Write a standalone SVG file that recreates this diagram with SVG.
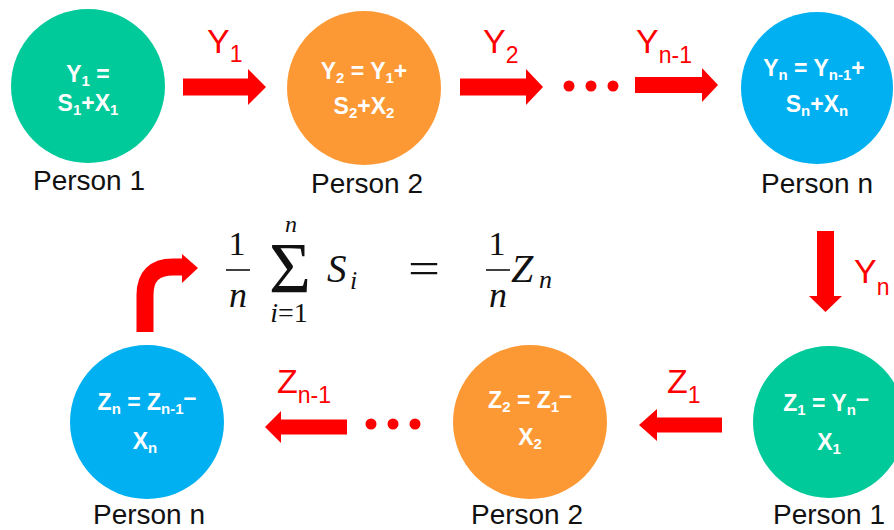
<svg xmlns="http://www.w3.org/2000/svg" width="894" height="530" viewBox="0 0 894 530">
<style>
.green{fill:#00C99A}
.orange{fill:#FD9935}
.blue{fill:#00B0F0}
.ct{font-family:"Liberation Sans",Arial,sans-serif;font-size:23px;font-weight:bold;fill:#fff;text-anchor:middle}
.sb{font-size:15px}
.pl{font-family:"Liberation Sans",Arial,sans-serif;font-size:28px;fill:#111;text-anchor:middle}
.rl{font-family:"Liberation Sans",Arial,sans-serif;font-size:34px;fill:#F00}
.rs{font-size:23px}
.arr{fill:#F00}
.dot{fill:#F00}
.m{font-family:"Liberation Serif","Times New Roman",serif;fill:#111}
.mi{font-style:italic}
.bar{stroke:#111;stroke-width:1.6}
</style>

<g id="connectors">
  <polygon class="arr" points="183,78.5 248,78.5 248,69 266,87 248,105 248,95.5 183,95.5"/>
  <polygon class="arr" points="460,78.5 526,78.5 526,69 543,87 526,105 526,95.5 460,95.5"/>
  <polygon class="arr" points="635,77 702,77 702,68 718,85 702,102 702,93 635,93"/>
  <polygon class="arr" points="817,231 834,231 834,296 842,296 825.5,312 809,296 817,296"/>
  <polygon class="arr" points="722,417.5 657,417.5 657,409 639,425 657,441 657,432.5 722,432.5"/>
  <polygon class="arr" points="347,419.5 281,419.5 281,411 265,427 281,443 281,434.5 347,434.5"/>
  <path d="M145,332 L145,295 Q145,267 173,267 L184,267" fill="none" stroke="#F00" stroke-width="17"/>
  <polygon class="arr" points="182,254 198,268 182,283"/>
  <circle class="dot" cx="569" cy="86" r="5.5"/>
  <circle class="dot" cx="591" cy="86" r="5.5"/>
  <circle class="dot" cx="613" cy="86" r="5.5"/>
  <circle class="dot" cx="371" cy="424" r="5.5"/>
  <circle class="dot" cx="393" cy="424" r="5.5"/>
  <circle class="dot" cx="415" cy="424" r="5.5"/>
  <text class="rl" x="207" y="53">Y<tspan class="rs" dy="9">1</tspan></text>
  <text class="rl" x="483" y="53">Y<tspan class="rs" dy="10">2</tspan></text>
  <text class="rl" x="636" y="53">Y<tspan class="rs" dy="10">n-1</tspan></text>
  <text class="rl" x="854" y="283">Y<tspan class="rs" dy="12">n</tspan></text>
  <text class="rl" x="667" y="393">Z<tspan class="rs" dy="10">1</tspan></text>
  <text class="rl" x="277" y="393">Z<tspan class="rs" dy="10">n-1</tspan></text>
</g>

<g id="person1-top">
  <circle class="green" cx="88" cy="86" r="77"/>
  <text class="ct" x="88" y="82">Y<tspan class="sb" dy="4">1</tspan><tspan dy="-4"> =</tspan></text>
  <text class="ct" x="88" y="111">S<tspan class="sb" dy="4">1</tspan><tspan dy="-4">+X</tspan><tspan class="sb" dy="4">1</tspan></text>
  <text class="pl" x="89" y="190">Person 1</text>
</g>

<g id="person2-top">
  <circle class="orange" cx="364" cy="88" r="77"/>
  <text class="ct" x="364" y="79">Y<tspan class="sb" dy="4">2</tspan><tspan dy="-4"> = Y</tspan><tspan class="sb" dy="4">1</tspan><tspan dy="-4">+</tspan></text>
  <text class="ct" x="364" y="114">S<tspan class="sb" dy="4">2</tspan><tspan dy="-4">+X</tspan><tspan class="sb" dy="4">2</tspan></text>
  <text class="pl" x="367" y="193">Person 2</text>
</g>

<g id="personn-top">
  <circle class="blue" cx="817" cy="88" r="76"/>
  <text class="ct" x="814" y="76">Y<tspan class="sb" dy="4">n</tspan><tspan dy="-4"> = Y</tspan><tspan class="sb" dy="4">n-1</tspan><tspan dy="-4">+</tspan></text>
  <text class="ct" x="817" y="112">S<tspan class="sb" dy="4">n</tspan><tspan dy="-4">+X</tspan><tspan class="sb" dy="4">n</tspan></text>
  <text class="pl" x="817" y="193">Person n</text>
</g>

<g id="person1-bottom">
  <circle class="green" cx="829" cy="422" r="76"/>
  <text class="ct" x="826" y="411">Z<tspan class="sb" dy="4">1</tspan><tspan dy="-4"> = Y</tspan><tspan class="sb" dy="4">n</tspan><tspan dy="-9">–</tspan></text>
  <text class="ct" x="829" y="450">X<tspan class="sb" dy="4">1</tspan></text>
  <text class="pl" x="829" y="524">Person 1</text>
</g>

<g id="person2-bottom">
  <circle class="orange" cx="530" cy="422" r="77"/>
  <text class="ct" x="530" y="408">Z<tspan class="sb" dy="4">2</tspan><tspan dy="-4"> = Z</tspan><tspan class="sb" dy="4">1</tspan><tspan dy="-9">–</tspan></text>
  <text class="ct" x="530" y="445">X<tspan class="sb" dy="4">2</tspan></text>
  <text class="pl" x="527" y="524">Person 2</text>
</g>

<g id="personn-bottom">
  <circle class="blue" cx="147" cy="422" r="77"/>
  <text class="ct" x="147" y="410">Z<tspan class="sb" dy="4">n</tspan><tspan dy="-4"> = Z</tspan><tspan class="sb" dy="4">n-1</tspan><tspan dy="-9">–</tspan></text>
  <text class="ct" x="145" y="449">X<tspan class="sb" dy="4">n</tspan></text>
  <text class="pl" x="149" y="524">Person n</text>
</g>

<g id="formula">
  <text class="m" x="237" y="255" font-size="34" text-anchor="middle">1</text>
  <line class="bar" x1="226" y1="270" x2="250" y2="270"/>
  <text class="m mi" x="238" y="307" font-size="36" text-anchor="middle">n</text>
  <text class="m" x="290" y="292" font-size="72" text-anchor="middle">Σ</text>
  <text class="m mi" x="291" y="232" font-size="24" text-anchor="middle">n</text>
  <text class="m" x="289" y="322" font-size="28" text-anchor="middle"><tspan class="mi">i</tspan>=1</text>
  <text class="m mi" x="327" y="282" font-size="39">S</text>
  <text class="m mi" x="350" y="289" font-size="26">i</text>
  <text class="m" x="408" y="283" font-size="44" textLength="32" lengthAdjust="spacingAndGlyphs">=</text>
  <text class="m" x="497" y="255" font-size="34" text-anchor="middle">1</text>
  <line class="bar" x1="486" y1="270" x2="510" y2="270"/>
  <text class="m mi" x="498" y="307" font-size="36" text-anchor="middle">n</text>
  <text class="m mi" x="511" y="282" font-size="40">Z</text>
  <text class="m mi" x="539" y="288" font-size="26">n</text>
</g>
</svg>
